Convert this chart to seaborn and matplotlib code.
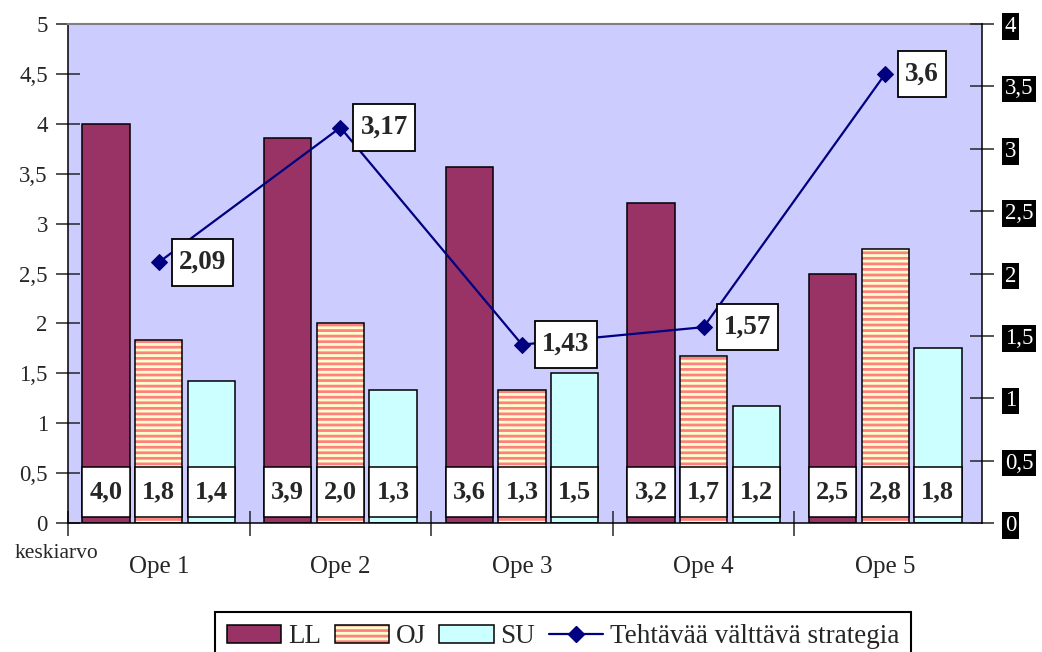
import numpy as np
import pandas as pd
import matplotlib
matplotlib.use("Agg")
import matplotlib.pyplot as plt
from matplotlib.patches import Rectangle, Patch
from matplotlib.lines import Line2D
from matplotlib.path import Path
import seaborn as sns

# Keskiarvot opettajittain
teachers = ["Ope 1", "Ope 2", "Ope 3", "Ope 4", "Ope 5"]
series_names = ["LL", "OJ", "SU"]
ll = [4.0, 3.86, 3.57, 3.21, 2.5]
oj = [1.83, 2.0, 1.33, 1.67, 2.75]
su = [1.42, 1.33, 1.5, 1.17, 1.75]
line_name = "Tehtävää välttävä strategia"
strategy = [2.09, 3.17, 1.43, 1.57, 3.6]
left_ticks = [0, 0.5, 1, 1.5, 2, 2.5, 3, 3.5, 4, 4.5, 5]
right_ticks = [0, 0.5, 1, 1.5, 2, 2.5, 3, 3.5, 4]

colors = {"LL": "#993366", "OJ": "#FFFFCC", "SU": "#CCFFFF"}
stripe = "#FF8080"
navy = "#000080"


def fi(v):
    return f"{v:g}".replace(".", ",")


def label_box(x0, y0, width, height, mutation_size):
    # rectangular frame with more room above/below than at the sides
    px, py = 0.26 * mutation_size, 0.4 * mutation_size
    x0, y0 = x0 - px, y0 - py
    x1, y1 = x0 + width + 2 * px, y0 + height + 2 * py
    return Path([(x0, y0), (x1, y0), (x1, y1), (x0, y1), (x0, y0)], closed=True)


sns.set_style("white")
plt.rcParams["font.family"] = ["Liberation Serif", "DejaVu Serif"]
plt.rcParams["hatch.linewidth"] = 2.0

fig = plt.figure(figsize=(10.42, 6.52), dpi=100)
ax = fig.add_axes([68 / 1042, 129 / 652, 914 / 1042, 499 / 652])

df = pd.DataFrame({
    "ope": teachers * 3,
    "sarja": [s for s in series_names for _ in teachers],
    "arvo": ll + oj + su,
})
sns.barplot(data=df, x="ope", y="arvo", hue="sarja", hue_order=series_names,
            palette=colors, width=0.87, gap=0.1, saturation=1,
            edgecolor="black", linewidth=1.1, errorbar=None,
            legend=False, ax=ax)

# striped OJ bars with a black outline on top
for bar in ax.containers[1]:
    bar.set_hatch("---")
    bar.set_edgecolor(stripe)
    bar.set_linewidth(0)
    ax.add_patch(Rectangle((bar.get_x(), bar.get_y()), bar.get_width(), bar.get_height(),
                           fill=False, edgecolor="black", lw=1.1, zorder=bar.get_zorder() + 0.1))

# value boxes near the base of each bar
for cont, vals in zip(ax.containers, [ll, oj, su]):
    for bar, v in zip(cont, vals):
        ax.add_patch(Rectangle((bar.get_x(), 0.06), bar.get_width(), 0.5,
                               facecolor="white", edgecolor="black", lw=1.1, zorder=5))
        ax.text(bar.get_x() + bar.get_width() / 2, 0.31, f"{v:.1f}".replace(".", ","),
                ha="center", va="center", fontsize=19, fontweight="bold", zorder=6)

ax.set_facecolor("#CCCCFF")
ax.set_ylim(0, 5)
ax.set_yticks(left_ticks)
ax.set_yticklabels([fi(t) for t in left_ticks])
ax.tick_params(axis="y", direction="inout", length=17, width=1.1, labelsize=16.5, pad=6, left=True)
ax.set_xlabel("")
ax.set_ylabel("")
for s in ["left", "bottom"]:
    ax.spines[s].set_color("black")
    ax.spines[s].set_linewidth(1.1)
ax.spines["top"].set_color("#808080")
ax.spines["top"].set_linewidth(1.5)
ax.spines["right"].set_visible(False)

# secondary axis: strategy line
ax2 = ax.twinx()
for s in ["top", "left", "bottom"]:
    ax2.spines[s].set_visible(False)
ax2.spines["right"].set_color("black")
ax2.spines["right"].set_linewidth(1.1)

xpos = np.arange(len(teachers))
sns.lineplot(x=xpos, y=strategy, ax=ax2, color=navy, lw=1.6, marker="D",
             markersize=8.5, markeredgecolor=navy, markerfacecolor=navy)
ax2.set_ylim(0, 4)
ax2.set_yticks(right_ticks)
ax2.set_yticklabels([fi(t) for t in right_ticks])
ax2.tick_params(axis="y", direction="inout", length=17, width=1.1, labelsize=16.5,
                pad=8, labelcolor="white", right=True)
ax2.set_ylabel("")

for x, v in zip(xpos, strategy):
    ax2.annotate(fi(v), (x, v), xytext=(14.5, 0), textcoords="offset points",
                 ha="left", va="center", fontsize=19.5, fontweight="bold",
                 bbox=dict(boxstyle=label_box, fc="white", ec="black", lw=1.3),
                 zorder=10)

# category axis: separator ticks between groups, names in the middle
ax.set_xlim(-0.5, len(teachers) - 0.5 + 0.033)
ax.set_xticks(np.arange(-0.5, len(teachers) - 1, 1))
ax.set_xticklabels([])
ax.set_xticks(xpos, minor=True)
ax.set_xticklabels(teachers, minor=True)
ax.tick_params(axis="x", which="major", direction="inout", length=18, width=1.1, bottom=True)
ax.tick_params(axis="x", which="minor", length=0, labelsize=18, pad=24, bottom=True)

fig.text(15 / 1042, 1 - 553 / 652, "keskiarvo", fontsize=15.5, ha="left", va="center")

handles = [
    Patch(facecolor=colors["LL"], edgecolor="black", lw=1.1),
    (Patch(facecolor=colors["OJ"], edgecolor=stripe, hatch="---", lw=0),
     Patch(fill=False, edgecolor="black", lw=1.1)),
    Patch(facecolor=colors["SU"], edgecolor="black", lw=1.1),
    Line2D([], [], color=navy, lw=1.6, marker="D", markersize=8.5),
]
leg = fig.legend(handles, series_names + [line_name], loc="upper center",
                 bbox_to_anchor=(563 / 1042, 1 - 612 / 652), ncol=4, frameon=True,
                 fancybox=False, edgecolor="black", fontsize=19.5, handlelength=2.0,
                 handleheight=0.65, handletextpad=0.25, columnspacing=0.5,
                 borderpad=0.45, borderaxespad=0, framealpha=1)
leg.get_frame().set_linewidth(1.5)

# right-hand tick labels: white on black
fig.canvas.draw()
for tick in ax2.yaxis.get_major_ticks():
    tick.label2.set_bbox(dict(facecolor="black", edgecolor="none", pad=2))

fig.savefig("out.png", dpi=100, facecolor="white")
